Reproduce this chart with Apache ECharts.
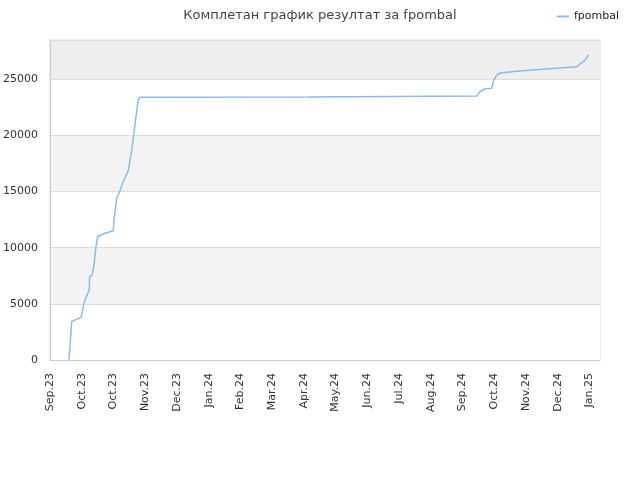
<!DOCTYPE html>
<html><head><meta charset="utf-8">
<script src="https://cdn.jsdelivr.net/npm/echarts@6/dist/echarts.min.js"></script>
<style>html,body{margin:0;padding:0;background:#fff}#c{width:640px;height:480px}</style>
</head><body><div id="c"></div>
<script>
// days since start of axis (Sep.23) and cumulative score
const days = [17.9, 18.9, 19.8, 20.5, 29.3, 30.5, 32.1, 34.7, 37.1, 37.5, 39.9, 41.8, 43.2, 45.0, 51.9, 59.8, 60.4, 63.0, 65.2, 69.2, 73.9, 75.6, 77.2, 78.7, 80.3, 81.9, 83.4, 85.0, 244.6, 245.0, 403.5, 406.8, 410.8, 417.7, 419.6, 422.4, 426.6, 443.9, 456.4, 469.1, 481.7, 498.0, 501.2, 505.3, 509.3];
const scores = [0, 1185, 2378, 3414, 3803, 4302, 5050, 5700, 6234, 7419, 7570, 8612, 9948, 10981, 11284, 11515, 12317, 14401, 14846, 15880, 16832, 17812, 18551, 19745, 20930, 22113, 23156, 23400, 23420, 23510, 23520, 23900, 24135, 24200, 24937, 25380, 25590, 25740, 25830, 25920, 26000, 26120, 26360, 26660, 27160];
const tickLabels = ['Sep.23','Oct.23','Oct.23','Nov.23','Dec.23','Jan.24','Feb.24','Mar.24','Apr.24','May.24','Jun.24','Jul.24','Aug.24','Sep.24','Oct.24','Nov.24','Dec.24','Jan.25'];
const seriesName = 'fpombal';
const titleText = 'Комплетан график резултат за fpombal';

const chart = echarts.init(document.getElementById('c'));
chart.setOption({
  animation: false,
  textStyle: { fontFamily: 'DejaVu Sans' },
  title: { text: titleText, left: 'center', top: 4,
    textStyle: { fontSize: 13, fontWeight: 'normal', color: '#444', fontFamily: 'DejaVu Sans' } },
  legend: { right: 16, top: 6, itemWidth: 12, itemHeight: 2, itemGap: 6,
    icon: 'rect',
    textStyle: { fontSize: 11, color: '#222', fontFamily: 'DejaVu Sans' },
    data: [seriesName] },
  grid: { left: 50, right: 40, top: 40, bottom: 120, show: true, borderColor: '#ddd', borderWidth: 1, backgroundColor: 'transparent' },
  xAxis: { type: 'value', min: 0, max: 520, interval: 30,
    axisLine: { show: true, lineStyle: { color: '#ccc' } },
    axisTick: { show: false },
    splitLine: { show: false },
    axisLabel: { rotate: 90, fontSize: 11, color: '#333', margin: 13, showMaxLabel: false,
      formatter: v => { const i = Math.round(v / 30); return (Math.abs(v - i * 30) < 0.01 && tickLabels[i]) ? tickLabels[i] : ''; } } },
  yAxis: { type: 'value', min: 0, max: 28500, interval: 5000,
    axisLine: { show: true, lineStyle: { color: '#ccc' } },
    axisTick: { show: false },
    splitLine: { show: true, lineStyle: { color: '#ddd' } },
    splitArea: { show: true, areaStyle: { color: ['#ffffff', '#f3f3f3', '#ffffff', '#f3f3f3', '#ffffff', '#eeeeee'] } },
    axisLabel: { fontSize: 11, color: '#333', margin: 12, showMaxLabel: false,
      formatter: v => (v % 5000 === 0 ? String(v) : '') } },
  series: [{ name: seriesName, type: 'line', showSymbol: false, symbol: 'none',
    data: days.map((d, i) => [d, scores[i]]),
    lineStyle: { color: '#88bbee', width: 1.5 }, itemStyle: { color: '#88bbee' } }]
});
</script></body></html>
